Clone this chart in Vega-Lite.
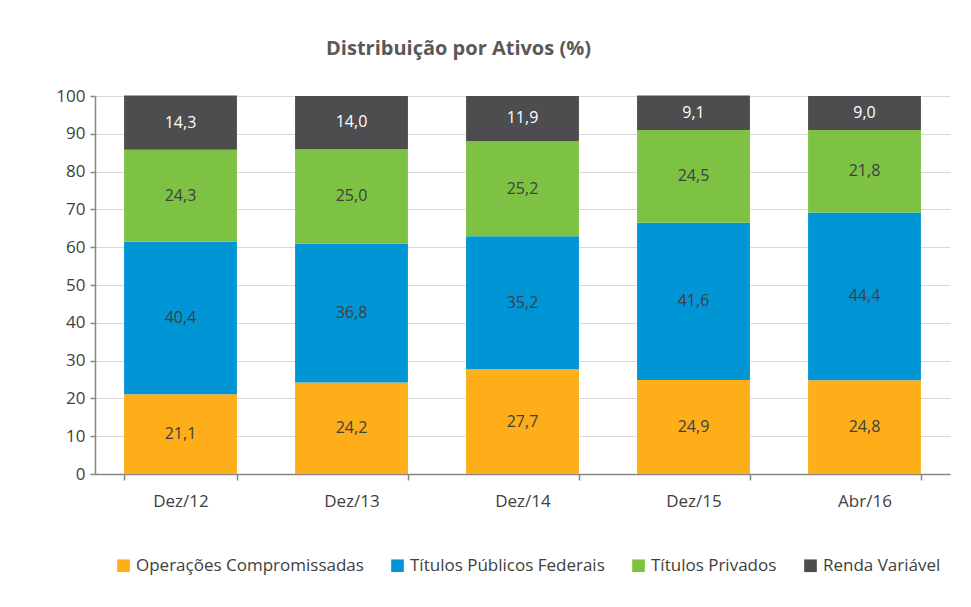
{
  "$schema": "https://vega.github.io/schema/vega-lite/v6.json",
  "width": 855,
  "height": 378,
  "padding": {"left": 95, "top": 96, "right": 21, "bottom": 133},
  "autosize": {"type": "none"},
  "background": "white",
  "config": {
    "locale": {"number": {"decimal": ",", "thousands": ".", "grouping": [3], "currency": ["R$", ""]}},
    "font": "Open Sans",
    "view": {"stroke": null}
  },
  "title": {
    "text": "Distribuição por Ativos (%)",
    "font": "Open Sans",
    "fontSize": 20,
    "fontWeight": "bold",
    "color": "#595959",
    "anchor": "middle",
    "dx": -64,
    "offset": 28
  },
  "data": {
    "values": [
      {"periodo": "Dez/12", "serie": "Operações Compromissadas", "ordem": 1, "valor": 21.1},
      {"periodo": "Dez/12", "serie": "Títulos Públicos Federais", "ordem": 2, "valor": 40.4},
      {"periodo": "Dez/12", "serie": "Títulos Privados", "ordem": 3, "valor": 24.3},
      {"periodo": "Dez/12", "serie": "Renda Variável", "ordem": 4, "valor": 14.3},
      {"periodo": "Dez/13", "serie": "Operações Compromissadas", "ordem": 1, "valor": 24.2},
      {"periodo": "Dez/13", "serie": "Títulos Públicos Federais", "ordem": 2, "valor": 36.8},
      {"periodo": "Dez/13", "serie": "Títulos Privados", "ordem": 3, "valor": 25.0},
      {"periodo": "Dez/13", "serie": "Renda Variável", "ordem": 4, "valor": 14.0},
      {"periodo": "Dez/14", "serie": "Operações Compromissadas", "ordem": 1, "valor": 27.7},
      {"periodo": "Dez/14", "serie": "Títulos Públicos Federais", "ordem": 2, "valor": 35.2},
      {"periodo": "Dez/14", "serie": "Títulos Privados", "ordem": 3, "valor": 25.2},
      {"periodo": "Dez/14", "serie": "Renda Variável", "ordem": 4, "valor": 11.9},
      {"periodo": "Dez/15", "serie": "Operações Compromissadas", "ordem": 1, "valor": 24.9},
      {"periodo": "Dez/15", "serie": "Títulos Públicos Federais", "ordem": 2, "valor": 41.6},
      {"periodo": "Dez/15", "serie": "Títulos Privados", "ordem": 3, "valor": 24.5},
      {"periodo": "Dez/15", "serie": "Renda Variável", "ordem": 4, "valor": 9.1},
      {"periodo": "Abr/16", "serie": "Operações Compromissadas", "ordem": 1, "valor": 24.8},
      {"periodo": "Abr/16", "serie": "Títulos Públicos Federais", "ordem": 2, "valor": 44.4},
      {"periodo": "Abr/16", "serie": "Títulos Privados", "ordem": 3, "valor": 21.8},
      {"periodo": "Abr/16", "serie": "Renda Variável", "ordem": 4, "valor": 9.0}
    ]
  },
  "encoding": {
    "x": {
      "field": "periodo",
      "type": "nominal",
      "sort": ["Dez/12", "Dez/13", "Dez/14", "Dez/15", "Abr/16"],
      "scale": {"paddingInner": 0.34, "paddingOuter": 0.17},
      "axis": {
        "title": null,
        "labelAngle": 0,
        "labelFontSize": 17,
        "labelColor": "#404040",
        "labelPadding": 13,
        "domainColor": "#868686",
        "domainWidth": 1.5,
        "tickColor": "#868686",
        "tickWidth": 1.5,
        "tickSize": 6,
        "tickBand": "extent"
      }
    },
    "y": {
      "aggregate": "sum",
      "field": "valor",
      "type": "quantitative",
      "stack": "zero",
      "scale": {"domain": [0, 100], "nice": false},
      "axis": {
        "title": null,
        "values": [0, 10, 20, 30, 40, 50, 60, 70, 80, 90, 100],
        "labelFontSize": 17,
        "labelColor": "#404040",
        "labelPadding": 5,
        "domainColor": "#868686",
        "domainWidth": 1.5,
        "tickColor": "#868686",
        "tickWidth": 1.5,
        "tickSize": 5,
        "gridColor": "#D9D9D9",
        "gridWidth": 1.2
      }
    },
    "order": {"field": "ordem", "type": "quantitative"}
  },
  "layer": [
    {
      "mark": {"type": "bar"},
      "encoding": {
        "color": {
          "field": "serie",
          "type": "nominal",
          "scale": {
            "domain": ["Operações Compromissadas", "Títulos Públicos Federais", "Títulos Privados", "Renda Variável"],
            "range": ["#FDAE19", "#0096D6", "#7DC242", "#4D4D4F"]
          },
          "legend": {
            "title": null,
            "orient": "none",
            "direction": "horizontal",
            "legendX": 20,
            "legendY": 461,
            "symbolType": "square",
            "symbolSize": 160,
            "symbolStrokeWidth": 0,
            "symbolOpacity": 1,
            "labelFontSize": 17,
            "labelLimit": 400,
            "labelColor": "#404040",
            "labelOffset": 4,
            "columnPadding": 25
          }
        }
      }
    },
    {
      "mark": {"type": "text", "fontSize": 16, "baseline": "middle"},
      "encoding": {
        "y": {
          "aggregate": "sum",
          "field": "valor",
          "type": "quantitative",
          "stack": "zero",
          "bandPosition": 0.5
        },
        "detail": {"field": "serie", "type": "nominal"},
        "text": {"field": "valor", "type": "quantitative", "format": ".1f"},
        "color": {
          "condition": {"test": "datum.ordem === 4", "value": "#FFFFFF"},
          "value": "#404040"
        }
      }
    }
  ]
}
